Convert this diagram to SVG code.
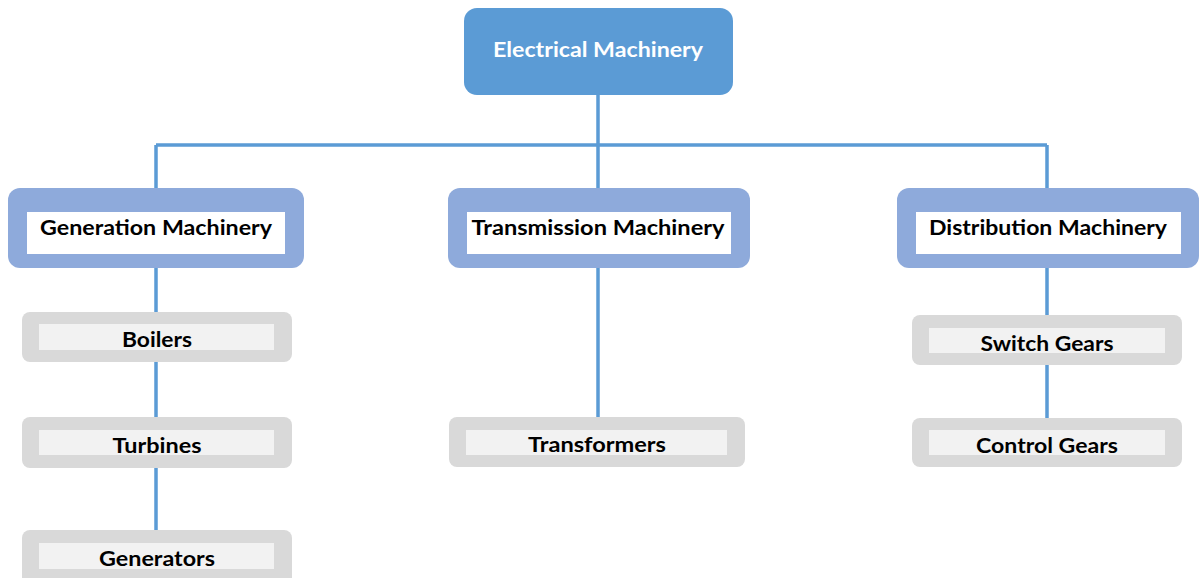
<svg xmlns="http://www.w3.org/2000/svg" width="1200" height="578" viewBox="0 0 1200 578">
<style>
.t{font-family:Lato,"Liberation Sans",Arial,sans-serif;font-weight:bold;font-size:21px;text-anchor:middle;fill:#000}
.w{fill:#fff}
.top{fill:#5B9BD5}
.l2{fill:#8EAADB}
.l2i{fill:#fff}
.l3{fill:#D9D9D9}
.l3i{fill:#F2F2F2}
.c{stroke:#5B9BD5;stroke-width:3.5;fill:none}
</style>
<rect width="1200" height="578" fill="#fff"/>
<g id="connectors">
<path class="c" d="M598,95V147M156,145H1047M156,145V188M598,145V188M1047,145V188"/>
<path class="c" d="M156,268V312M156,362V417M156,468V530"/>
<path class="c" d="M598,268V417"/>
<path class="c" d="M1047,268V315M1047,365V418"/>
</g>
<g id="electrical-machinery">
<rect class="top" x="464" y="8" width="269" height="87" rx="13"/>
<text class="t w" x="598" y="57" textLength="210" lengthAdjust="spacingAndGlyphs">Electrical Machinery</text>
</g>
<g id="generation-machinery">
<rect class="l2" x="8" y="188" width="296" height="80" rx="12"/>
<rect class="l2i" x="27" y="212" width="258" height="42"/>
<text class="t" x="156" y="235" textLength="232" lengthAdjust="spacingAndGlyphs">Generation Machinery</text>
</g>
<g id="transmission-machinery">
<rect class="l2" x="448" y="188" width="302" height="80" rx="12"/>
<rect class="l2i" x="467" y="212" width="264" height="42"/>
<text class="t" x="598" y="235" textLength="253" lengthAdjust="spacingAndGlyphs">Transmission Machinery</text>
</g>
<g id="distribution-machinery">
<rect class="l2" x="897" y="188" width="302" height="80" rx="12"/>
<rect class="l2i" x="916" y="212" width="265" height="42"/>
<text class="t" x="1048" y="235" textLength="238" lengthAdjust="spacingAndGlyphs">Distribution Machinery</text>
</g>
<g id="boilers">
<rect class="l3" x="22" y="312" width="270" height="50" rx="8"/>
<rect class="l3i" x="39" y="324" width="235" height="26"/>
<text class="t" x="157" y="347" textLength="70" lengthAdjust="spacingAndGlyphs">Boilers</text>
</g>
<g id="turbines">
<rect class="l3" x="22" y="417" width="270" height="51" rx="8"/>
<rect class="l3i" x="39" y="430" width="235" height="25"/>
<text class="t" x="157" y="453" textLength="89" lengthAdjust="spacingAndGlyphs">Turbines</text>
</g>
<g id="generators">
<rect class="l3" x="22" y="530" width="270" height="60" rx="8"/>
<rect class="l3i" x="39" y="543" width="235" height="26"/>
<text class="t" x="157" y="566" textLength="116" lengthAdjust="spacingAndGlyphs">Generators</text>
</g>
<g id="transformers">
<rect class="l3" x="449" y="417" width="296" height="50" rx="8"/>
<rect class="l3i" x="466" y="430" width="261" height="25"/>
<text class="t" x="597" y="452" textLength="138" lengthAdjust="spacingAndGlyphs">Transformers</text>
</g>
<g id="switch-gears">
<rect class="l3" x="912" y="315" width="270" height="50" rx="8"/>
<rect class="l3i" x="929" y="328" width="236" height="25"/>
<text class="t" x="1047" y="351" textLength="133" lengthAdjust="spacingAndGlyphs">Switch Gears</text>
</g>
<g id="control-gears">
<rect class="l3" x="912" y="418" width="270" height="49" rx="8"/>
<rect class="l3i" x="929" y="430" width="236" height="25"/>
<text class="t" x="1047" y="453" textLength="142" lengthAdjust="spacingAndGlyphs">Control Gears</text>
</g>
</svg>
